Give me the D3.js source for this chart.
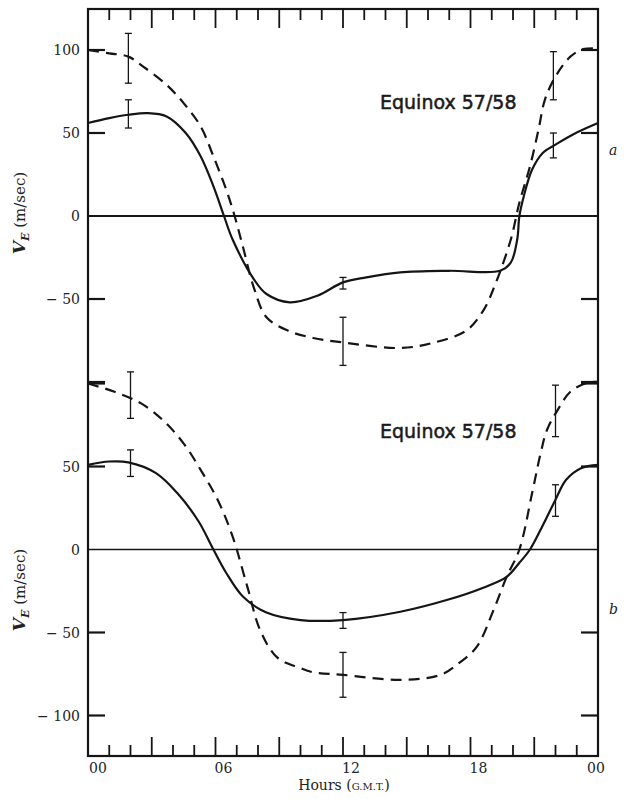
<!DOCTYPE html>
<html>
<head>
<meta charset="utf-8">
<script src="https://cdn.jsdelivr.net/npm/d3@7"></script>
<style>
  body { margin: 0; background: #fff; }
  svg { display: block; }
  .tick-label { font-family: "DejaVu Serif", serif; font-size: 14px; fill: #222; }
  .title { font-family: "DejaVu Sans", sans-serif; font-size: 19px; fill: #1a1a1a; stroke: #1a1a1a; stroke-width: 0.5; }
</style>
</head>
<body>
<svg id="chart"></svg>
<script>
// hours (G.M.T.) and V_E (m/sec)
var hoursA = [0, 1, 1.9, 2.8, 3.7, 4.6, 5.3, 5.9, 6.4, 6.8, 7.8, 8.4, 9.5, 10.8, 12, 13.1, 14.7, 17, 19.4, 19.9, 20.2, 20.3, 20.5, 20.9, 21.4, 22, 22.8, 24];
var solidA = [56, 59, 61, 62, 60, 50, 36, 18, 0, -14, -38, -47, -52, -48, -40, -37, -34, -33, -33, -28, -14, 0, 11.5, 28, 38, 43, 49, 56];

var hoursDashA = [0, 1, 1.9, 2.6, 3.7, 4.5, 5.3, 5.9, 6.5, 6.9, 7.3, 7.8, 8.4, 9.4, 10.6, 11.9, 14.7, 16.2, 17.8, 18.6, 19.2, 19.9, 20.3, 20.8, 21.2, 21.5, 22, 22.7, 23.3, 24];
var dashedA = [100, 98, 96, 90, 79, 68, 54, 36, 16, 0, -19, -43, -61, -69, -73.5, -76, -79.5, -76.5, -69, -57, -40, -14, 8, 30, 52, 70, 84, 96, 100.5, 101];

var hoursB = [0, 1, 1.9, 3.2, 4.2, 5.2, 5.9, 6.5, 7.3, 8.4, 10, 12, 14.7, 17, 18.6, 19.7, 20.3, 20.8, 21.4, 22, 22.5, 23.2, 24];
var solidB = [51, 53, 52.5, 46, 34, 17, 0, -14, -28.5, -38, -42.5, -42.5, -37.5, -30, -23, -16.5, -8, 0, 14.5, 30, 42, 49, 51];

var hoursDashB = [0, 1.25, 2.5, 3.6, 4.55, 5.3, 6.1, 6.8, 7.5, 8.1, 8.9, 10, 10.6, 12, 14.7, 16.6, 17.5, 18.3, 19.1, 19.7, 20.3, 20.9, 21.3, 21.6, 22.1, 22.7, 23.5, 24];
var dashedB = [100, 95, 88, 77, 63, 48, 30, 8, -22.5, -48.5, -65, -71.5, -74, -75.5, -78.5, -75.5, -68, -58.5, -36, -16.5, 0, 34, 58, 72, 84, 95, 100.5, 101];

// error bars: hour, low, high
var errHours = [1.9, 12, 21.9];
var errSolidA = [[53, 70], [-44, -37], [35, 50]];
var errDashA = [[80, 110], [-90, -61], [70, 99]];
var errHoursB = [2, 12, 22];
var errSolidB = [[44, 60], [-47.5, -38], [20, 39]];
var errDashB = [[79, 107], [-89, -62], [68, 99]];

var yTicksA = [100, 50, 0, -50, -100];
var yLabelsA = [100, 50, 0, -50];
var yTicksB = [100, 50, 0, -50, -100];
var yLabelsB = [50, 0, -50, -100];
var xLabels = ["00", "06", "12", "18", "00"];

var width = 626, height = 799;
var mLeft = 88, mRight = 598, mTop = 9, mBottom = 756;

var svg = d3.select("#chart").attr("width", width).attr("height", height);

var x = d3.scaleLinear().domain([0, 24]).range([mLeft, mRight]);
// both panels share the same px per unit; a spans -100..125, b spans -125..100
var yA = d3.scaleLinear().domain([0, 100]).range([216, 50]);
var yB = d3.scaleLinear().domain([0, 100]).range([549.5, 383.5]);

var ink = "#151515";

// frame
svg.append("rect")
  .attr("x", mLeft).attr("y", mTop)
  .attr("width", mRight - mLeft).attr("height", mBottom - mTop)
  .attr("fill", "none").attr("stroke", ink).attr("stroke-width", 2.2);

// hour ticks, top and bottom, long every 3 hours
var hours = d3.range(1, 24);
svg.append("g").selectAll("line")
  .data(hours).enter().append("line")
  .attr("x1", function(d) { return x(d); })
  .attr("x2", function(d) { return x(d); })
  .attr("y1", mTop)
  .attr("y2", function(d) { return mTop + (d % 3 === 0 ? 19 : 11); })
  .attr("stroke", ink).attr("stroke-width", 1.8);
svg.append("g").selectAll("line")
  .data(hours).enter().append("line")
  .attr("x1", function(d) { return x(d); })
  .attr("x2", function(d) { return x(d); })
  .attr("y1", mBottom)
  .attr("y2", function(d) { return mBottom - (d % 3 === 0 ? 19 : 11); })
  .attr("stroke", ink).attr("stroke-width", 1.8);

// y ticks on both sides, for both panels
function yTicks(scale, ticks) {
  var g = svg.append("g");
  ticks.forEach(function(v) {
    if (v === 0) return;
    g.append("line").attr("x1", mLeft).attr("x2", mLeft + 17)
      .attr("y1", scale(v)).attr("y2", scale(v))
      .attr("stroke", ink).attr("stroke-width", 2.2);
    g.append("line").attr("x1", mRight).attr("x2", mRight - 17)
      .attr("y1", scale(v)).attr("y2", scale(v))
      .attr("stroke", ink).attr("stroke-width", 2.2);
  });
}
yTicks(yA, yTicksA);
yTicks(yB, yTicksB);

function yLabels(scale, labels) {
  svg.append("g").selectAll("text")
    .data(labels).enter().append("text")
    .attr("class", "tick-label")
    .attr("x", 80)
    .attr("y", function(d) { return scale(d) + 5; })
    .attr("text-anchor", "end")
    .text(function(d) { return d < 0 ? "\u2212 " + Math.abs(d) : d; });
}
yLabels(yA, yLabelsA);
yLabels(yB, yLabelsB);

// zero lines
svg.append("line").attr("x1", mLeft).attr("x2", mRight)
  .attr("y1", yA(0)).attr("y2", yA(0))
  .attr("stroke", ink).attr("stroke-width", 2);
svg.append("line").attr("x1", mLeft).attr("x2", mRight)
  .attr("y1", yB(0)).attr("y2", yB(0))
  .attr("stroke", ink).attr("stroke-width", 1.3);

// curves
function curve(scale, hs, vs, dashed) {
  var line = d3.line()
    .x(function(d) { return x(d[0]); })
    .y(function(d) { return scale(d[1]); })
    .curve(d3.curveCatmullRom.alpha(0.5));
  svg.append("path")
    .datum(d3.zip(hs, vs))
    .attr("d", line)
    .attr("fill", "none")
    .attr("stroke", ink)
    .attr("stroke-width", 2.2)
    .attr("stroke-dasharray", dashed ? "11,7" : null);
}
curve(yA, hoursA, solidA, false);
curve(yA, hoursDashA, dashedA, true);
curve(yB, hoursB, solidB, false);
curve(yB, hoursDashB, dashedB, true);

// error bars
function errorBars(scale, hs, ranges) {
  var g = svg.append("g").attr("stroke", ink).attr("stroke-width", 1.3);
  ranges.forEach(function(r, i) {
    var cx = x(hs[i]);
    g.append("line").attr("x1", cx).attr("x2", cx)
      .attr("y1", scale(r[0])).attr("y2", scale(r[1]));
    g.append("line").attr("x1", cx - 3.5).attr("x2", cx + 3.5)
      .attr("y1", scale(r[0])).attr("y2", scale(r[0]));
    g.append("line").attr("x1", cx - 3.5).attr("x2", cx + 3.5)
      .attr("y1", scale(r[1])).attr("y2", scale(r[1]));
  });
}
errorBars(yA, errHours, errSolidA);
errorBars(yA, errHours, errDashA);
errorBars(yB, errHoursB, errSolidB);
errorBars(yB, errHoursB, errDashB);

// panel titles
svg.append("text").attr("class", "title").attr("x", 380).attr("y", 109).text("Equinox 57/58");
svg.append("text").attr("class", "title").attr("x", 380).attr("y", 438).text("Equinox 57/58");

// panel letters
svg.append("text").attr("class", "tick-label").attr("x", 609).attr("y", 155)
  .style("font-style", "italic").text("a");
svg.append("text").attr("class", "tick-label").attr("x", 609).attr("y", 614)
  .style("font-style", "italic").text("b");

// y axis titles
function yTitle(cy) {
  var t = svg.append("text")
    .attr("class", "tick-label")
    .style("font-size", "15px")
    .attr("transform", "translate(25," + cy + ") rotate(-90)")
    .attr("text-anchor", "middle");
  t.append("tspan").style("font-style", "italic").style("font-weight", "bold")
    .style("font-size", "17px").text("V");
  t.append("tspan").attr("dy", 4).style("font-style", "italic").style("font-weight", "bold")
    .style("font-size", "11px").text("E");
  t.append("tspan").attr("dy", -4).text(" (m/sec)");
}
yTitle(213);
yTitle(590);

// x labels
var xPos = [0, 6, 12, 18, 24];
svg.append("g").selectAll("text")
  .data(xLabels).enter().append("text")
  .attr("class", "tick-label")
  .attr("x", function(d, i) { return x(xPos[i]) + (i === 0 ? 10 : i === 4 ? -2 : 8); })
  .attr("y", 773)
  .attr("text-anchor", "middle")
  .text(function(d) { return d; });

var xt = svg.append("text").attr("class", "tick-label")
  .attr("x", 344).attr("y", 790).attr("text-anchor", "middle");
xt.append("tspan").text("Hours (");
xt.append("tspan").style("font-size", "10px").text("G.M.T.");
xt.append("tspan").text(")");
</script>
</body>
</html>
